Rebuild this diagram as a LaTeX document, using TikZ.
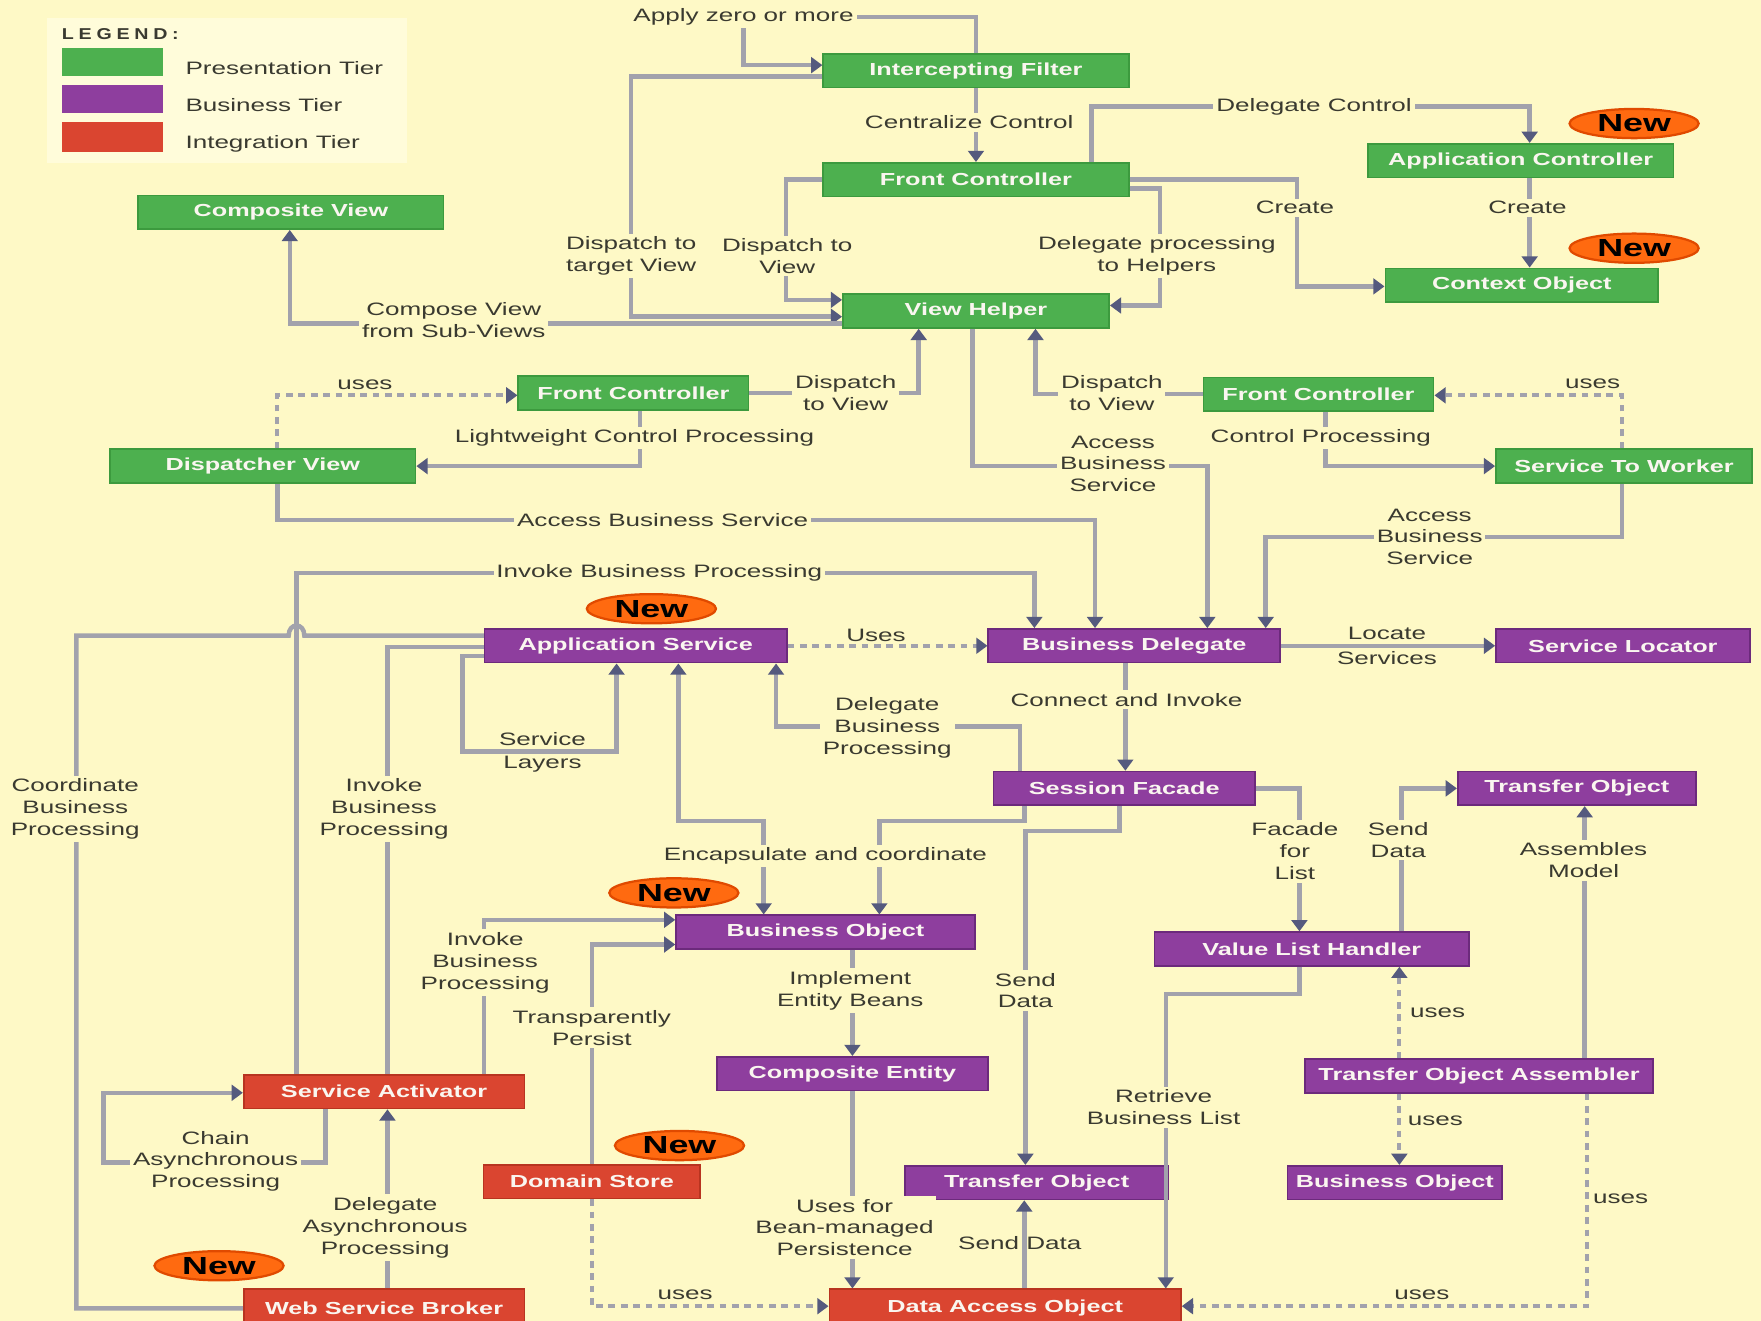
\documentclass[tikz,border=0pt]{standalone}
\usepackage{fontspec}
\setmainfont{Liberation Sans}
\newfontfamily\lblfam{Liberation Sans}[FakeStretch=1.45]
\newfontfamily\legfam{Liberation Sans}[FakeStretch=1.25,LetterSpace=30]
\usetikzlibrary{arrows.meta,shapes.geometric,calc}
\definecolor{bg}{HTML}{FEF9C6}
\definecolor{legbg}{HTML}{FFFCDA}
\definecolor{gfill}{HTML}{4DB04F}
\definecolor{gdraw}{HTML}{3C9A3E}
\definecolor{pfill}{HTML}{8E3E9E}
\definecolor{pdraw}{HTML}{6C2A7C}
\definecolor{rfill}{HTML}{DA4530}
\definecolor{rdraw}{HTML}{B83420}
\definecolor{lnc}{HTML}{A2A2AC}
\definecolor{arrc}{HTML}{555A7E}
\definecolor{txtc}{HTML}{3A3A30}
\definecolor{boxtxt}{HTML}{FAF6F0}
\definecolor{nworange}{HTML}{FF6A10}
\definecolor{nwedge}{HTML}{E04A00}
\newcommand\lblfont{\lblfam\fontsize{16}{19.5}\selectfont}
\newcommand\bxfont{\lblfam\bfseries\fontsize{15.5}{18}\selectfont}
\newcommand\nwfont{\lblfam\bfseries\fontsize{22}{24}\selectfont}
\tikzset{
  box/.style={minimum height=30pt, inner sep=0pt, text=boxtxt, font=\bxfont, line width=1.5pt},
  gbox/.style={box, fill=gfill, draw=gdraw},
  pbox/.style={box, fill=pfill, draw=pdraw},
  rbox/.style={box, fill=rfill, draw=rdraw},
  lbl/.style={font=\lblfont, text=txtc, align=center, inner sep=1.5pt},
  flbl/.style={lbl, fill=bg, inner sep=2.5pt},
  ln/.style={draw=lnc, line width=4pt},
  tip/.style={Triangle[length=10pt,width=14pt,color=arrc]},
  ar/.style={ln, -{Triangle[length=10pt,width=14pt,color=arrc]}},
  darr/.style={ln, {Triangle[length=10pt,width=14pt,color=arrc]}-{Triangle[length=10pt,width=14pt,color=arrc]}},
  dsh/.style={dash pattern=on 6pt off 5pt, line width=3.4pt},
  nwb/.style={ellipse, fill=nworange, draw=nwedge, line width=2pt, minimum width=115pt, minimum height=26pt, inner sep=0pt, font=\nwfont, text=black},
}
\begin{document}
\begin{tikzpicture}[x=1pt,y=-1pt]
\useasboundingbox (0,0) rectangle (1568,1176);
\clip (0,0) rectangle (1568,1176);
\fill[bg] (0,0) rectangle (1568,1176);
% legend
\fill[legbg] (42,16) rectangle (362,145);
\node[anchor=west, font=\legfam\bfseries\fontsize{14}{16}\selectfont, text=txtc, inner sep=0pt] (legt) at (55,30) {LEGEND:};
\fill[gfill] (55,43) rectangle (145,68);
\fill[pfill] (55,76) rectangle (145,101);
\fill[rfill] (55,109) rectangle (145,135);
\node[lbl, anchor=west, inner sep=0pt] (lg1) at (165,61) {Presentation Tier};
\node[lbl, anchor=west, inner sep=0pt] (lg2) at (165,94) {Business Tier};
\node[lbl, anchor=west, inner sep=0pt] (lg3) at (165,128) {Integration Tier};
% presentation tier
\node[gbox, minimum width=272pt] (IF) at (869,63) {Intercepting Filter};
\node[gbox, minimum width=272pt] (FC) at (869,160) {Front Controller};
\node[gbox, minimum width=272pt] (AC) at (1354,143) {Application Controller};
\node[gbox, minimum width=243pt] (CO) at (1355,254) {Context Object};
\node[gbox, minimum width=272pt] (CV) at (259,189) {Composite View};
\node[gbox, minimum width=237pt] (VH) at (869,277) {View Helper};
\node[gbox, minimum width=205pt] (FCL) at (564,350) {Front Controller};
\node[gbox, minimum width=205pt] (FCR) at (1174,351) {Front Controller};
\node[gbox, minimum width=272pt] (DV) at (234,415) {Dispatcher View};
\node[gbox, minimum width=228pt] (STW) at (1446,415) {Service To Worker};
% business tier
\node[pbox, minimum width=269pt] (AS) at (566,575) {Application Service};
\node[pbox, minimum width=260pt] (BD) at (1010,575) {Business Delegate};
\node[pbox, minimum width=226pt] (SL) at (1445,575) {Service Locator};
\node[pbox, minimum width=233pt] (SF) at (1001,702) {Session Facade};
\node[pbox, minimum width=212pt] (TOr) at (1404,702) {Transfer Object};
\node[pbox, minimum width=266pt] (BO) at (735,830) {Business Object};
\node[pbox, minimum width=280pt] (VLH) at (1168,845) {Value List Handler};
\node[pbox, minimum width=241pt] (CE) at (759,956) {Composite Entity};
\node[pbox, minimum width=310pt] (TOA) at (1317,958) {Transfer Object Assembler};
\node[pbox, minimum width=234pt] (TOb) at (923,1053) {Transfer Object};
\node[pbox, minimum width=191pt] (BOb) at (1242,1053) {Business Object};
% integration tier
\node[rbox, minimum width=250pt] (SA) at (342,972) {Service Activator};
\node[rbox, minimum width=193pt] (DS) at (527,1052) {Domain Store};
\node[rbox, minimum width=250pt, minimum height=34pt] (WSB) at (342,1165) {Web Service Broker};
\node[rbox, minimum width=313pt, minimum height=34pt] (DAO) at (895,1165) {Data Access Object};
% new badges
\node[nwb] (n1) at (1455,110) {New};
\node[nwb] (n2) at (1455,221) {New};
\node[nwb] (n3) at (580,542) {New};
\node[nwb] (n4) at (600,795) {New};
\node[nwb] (n5) at (605,1020) {New};
\node[nwb] (n6) at (195,1127) {New};
% connectors
\node[flbl] (apply) at (662,15) {Apply zero or more};
\draw[ln] (IF.north) |- (apply.east);
\draw[ar] (apply.south) |- (IF.west |- 0,58);
\draw[ar] (IF.south) -- (FC.north);
\draw[ar] (IF.west |- 0,68) -| (562,282) -- (VH.west |- 0,282);
\draw[ar] (FC.west) -| (700,267) -- (VH.west |- 0,267);
\draw[ar] (FC.north -| 972,0) |- (1362,95) -- (AC.north -| 1362,0);
\draw[ar] (FC.east) -| (1155,255) -- (CO.west |- 0,255);
\draw[ar] (AC.south -| 1362,0) -- (CO.north -| 1362,0);
\draw[ar] (FC.east |- 0,168) -| (1033,272) -- (VH.east |- 0,272);
\draw[ar] (VH.west |- 0,288) -| (CV.south -| 258,0);
\draw[ar] (FCL.east) -| (VH.south -| 818,0);
\draw[ar] (FCR.west) -| (VH.south -| 922,0);
\draw[ar,dsh] (DV.north -| 247,0) |- (FCL.west |- 0,352);
\draw[ar] (FCL.south -| 570,0) |- (DV.east |- 0,415);
\draw[ar,dsh] (STW.north -| 1444,0) |- (FCR.east |- 0,352);
\draw[ar] (FCR.south -| 1180,0) |- (STW.west);
\draw[ar] (VH.south -| 866,0) |- (1075,415) -- (BD.north -| 1075,0);
\draw[ar] (DV.south -| 247,0) |- (975,463) -- (BD.north -| 975,0);
\draw[ar] (STW.south -| 1444,0) |- (1127,478) -- (BD.north -| 1127,0);
\draw[ar] (SA.north -| 264,0) |- (921,510) -- (BD.north -| 921,0);
\draw[ln] (WSB.west) -| (68,566) -- (257,566) .. controls (257,554) and (271,554) .. (271,566) -- (AS.west |- 0,566);
\draw[ln] (SA.north -| 345,0) |- (AS.west |- 0,576);
\draw[ar] (AS.west |- 0,584) -| (412,669) -| (AS.south -| 549,0);
\draw[darr] (AS.south -| 604,0) |- (680,731) -- (BO.north -| 680,0);
\draw[ar] (SF.south -| 912,0) |- (783,731) -- (BO.north -| 783,0);
\draw[ar] (SF.north -| 908,0) |- (691,647) -- (AS.south -| 691,0);
\draw[ar] (BD.south -| 1002,0) -- (SF.north -| 1002,0);
\draw[ar,dsh] (AS.east) -- (BD.west);
\draw[ar] (BD.east) -- (SL.west);
\draw[ar] (SF.east) -| (VLH.north -| 1157,0);
\draw[ar] (SF.south -| 997,0) |- (913,740) -- (TOb.north -| 913,0);
\draw[ar] (VLH.north -| 1248,0) |- (TOr.west);
\draw[ar] (TOA.north -| 1411,0) -- (TOr.south -| 1411,0);
\draw[ar,dsh] (TOA.north -| 1246,0) -- (VLH.south -| 1246,0);
\draw[ar,dsh] (TOA.south -| 1246,0) -- (BOb.north -| 1246,0);
\draw[ar,dsh] (TOA.south -| 1413,0) |- (DAO.east |- 0,1163);
\draw[ar] (VLH.south -| 1157,0) |- (1038,885) -- (DAO.north -| 1038,0);
\draw[ar] (BO.south -| 759,0) -- (CE.north -| 759,0);
\draw[ar] (CE.south -| 759,0) -- (DAO.north -| 759,0);
\draw[ar] (DAO.north -| 912,0) -- (TOb.south -| 912,0);
\draw[ar] (SA.north -| 431,0) |- (BO.west |- 0,819);
\draw[ar] (DS.north -| 527,0) |- (BO.west |- 0,841);
\draw[ar,dsh] (DS.south -| 527,0) |- (DAO.west |- 0,1163);
\draw[ar] (SA.south -| 290,0) |- (92,1035) |- (SA.west |- 0,973);
\draw[ar] (WSB.north -| 345,0) -- (SA.south -| 345,0);
% labels
\node[flbl] (l1) at (863,109) {Centralize Control};
\node[flbl] (l2) at (1170,95) {Delegate Control};
\node[flbl] (l3) at (1153,185) {Create};
\node[flbl] (l4) at (1360,185) {Create};
\node[flbl] (l5) at (562,228) {Dispatch to\\target View};
\node[flbl] (l6) at (701,228) {Dispatch to\\View};
\node[flbl] (l7) at (1030,228) {Delegate processing\\to Helpers};
\node[flbl] (l8) at (404,285) {Compose View\\from Sub-Views};
\node[lbl] (l9) at (325,343) {uses};
\node[flbl] (l10) at (753,350) {Dispatch\\to View};
\node[flbl] (l11) at (990,350) {Dispatch\\to View};
\node[lbl] (l12) at (1418,342) {uses};
\node[flbl] (l13) at (565,390) {Lightweight Control Processing};
\node[flbl] (l14) at (1176,390) {Control Processing};
\node[flbl] (l15) at (991,413) {Access\\Business\\Service};
\node[flbl] (l16) at (590,463) {Access Business Service};
\node[flbl] (l17) at (1273,478) {Access\\Business\\Service};
\node[flbl] (l18) at (587,510) {Invoke Business Processing};
\node[lbl] (l19) at (780,566) {Uses};
\node[lbl] (l20) at (1235,564) {Locate};
\node[lbl] (l21) at (1235,586) {Services};
\node[flbl] (l22) at (1003,623) {Connect and Invoke};
\node[flbl] (l23) at (790,648) {Delegate\\Business\\Processing};
\node[lbl] (l24) at (483,658) {Service};
\node[lbl] (l25) at (483,680) {Layers};
\node[flbl] (l26) at (67,720) {Coordinate\\Business\\Processing};
\node[flbl] (l27) at (342,720) {Invoke\\Business\\Processing};
\node[flbl] (l28) at (735,762) {Encapsulate and coordinate};
\node[flbl] (l29) at (1153,758) {Facade\\for\\List};
\node[flbl] (l30) at (1245,748) {Send\\Data};
\node[flbl] (l31) at (1410,766) {Assembles\\Model};
\node[flbl] (l32) at (432,857) {Invoke\\Business\\Processing};
\node[flbl] (l33) at (757,882) {Implement\\Entity Beans};
\node[flbl] (l34) at (913,882) {Send\\Data};
\node[lbl] (l35) at (1280,902) {uses};
\node[flbl] (l36) at (527,915) {Transparently\\Persist};
\node[flbl] (l37) at (1036,986) {Retrieve\\Business List};
\node[lbl] (l38) at (1278,998) {uses};
\node[flbl] (l39) at (192,1034) {Chain\\Asynchronous\\Processing};
\node[flbl] (l40) at (752,1093) {Uses for\\Bean-managed\\Persistence};
\node[flbl] (l41) at (343,1093) {Delegate\\Asynchronous\\Processing};
\node[lbl] (l42) at (908,1107) {Send Data};
\node[lbl] (l43) at (1443,1067) {uses};
\node[lbl] (l44) at (610,1153) {uses};
\node[lbl] (l45) at (1266,1153) {uses};
\end{tikzpicture}
\end{document}
